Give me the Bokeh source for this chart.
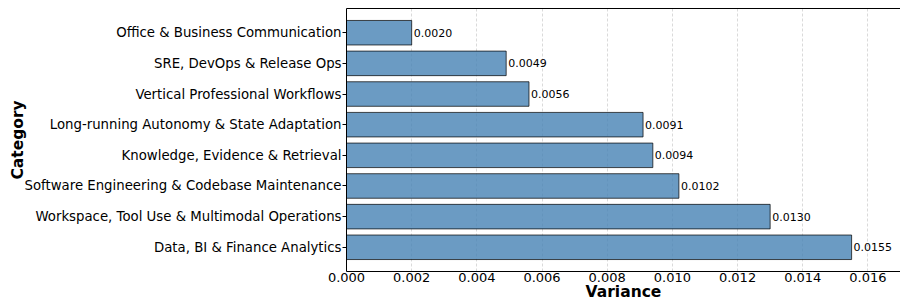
from bokeh.plotting import figure
from bokeh.models import ColumnDataSource, Range1d, FixedTicker, LinearAxis, PrintfTickFormatter
from bokeh.core.properties import value
from bokeh.embed import file_html
from bokeh.resources import INLINE

# bottom to top
categories = [
    "Data, BI & Finance Analytics",
    "Workspace, Tool Use & Multimodal Operations",
    "Software Engineering & Codebase Maintenance",
    "Knowledge, Evidence & Retrieval",
    "Long-running Autonomy & State Adaptation",
    "Vertical Professional Workflows",
    "SRE, DevOps & Release Ops",
    "Office & Business Communication",
]
variances = [0.0155, 0.0130, 0.0102, 0.0094, 0.0091, 0.0056, 0.0049, 0.0020]
x_ticks = [0.000, 0.002, 0.004, 0.006, 0.008, 0.010, 0.012, 0.014, 0.016]
x_label = "Variance"
y_label = "Category"

FONT = "DejaVu Sans"
ys = list(range(len(categories)))
src = ColumnDataSource(dict(
    y=ys, v=variances, lab=["%.4f" % v for v in variances]))

XMAX = 0.017
p = figure(width=900, height=303, output_backend="svg", toolbar_location=None,
           x_range=Range1d(0, XMAX), y_range=Range1d(-0.79, len(categories) - 1 + 0.79),
           min_border_left=346, min_border_right=0, min_border_top=8, min_border_bottom=32)
p.outline_line_color = None
p.background_fill_color = "white"
p.border_fill_color = "white"

p.hbar(y="y", left=0, right="v", height=0.8, source=src,
       fill_color="#4682b4", fill_alpha=0.8, line_color="black", line_alpha=0.7, line_width=1)
p.text(x="v", y="y", text="lab", source=src, x_offset=2, text_align="left",
       text_baseline="middle", text_font_size="11px", text_font=value(FONT), text_color="black")

# x axis
xa = p.xaxis[0]
xa.ticker = FixedTicker(ticks=x_ticks)
xa.formatter = PrintfTickFormatter(format="%.3f")
xa.major_tick_out = 0
xa.major_tick_in = 0
xa.minor_tick_out = 0
xa.minor_tick_in = 0
xa.major_label_standoff = 1
xa.major_label_text_font = FONT
xa.major_label_text_font_size = "13px"
xa.major_label_text_color = "black"
xa.axis_line_color = "black"
xa.axis_label = x_label
xa.axis_label_text_font = FONT
xa.axis_label_text_font_style = "bold"
xa.axis_label_text_font_size = "15.5px"
xa.axis_label_text_color = "black"
xa.axis_label_standoff = -2

# y axis
ya = p.yaxis[0]
ya.ticker = FixedTicker(ticks=ys)
ya.major_label_overrides = {i: c for i, c in enumerate(categories)}
ya.major_tick_out = 4
ya.major_tick_in = 0
ya.minor_tick_out = 0
ya.minor_tick_in = 0
ya.major_tick_line_color = "black"
ya.major_label_standoff = 1
ya.major_label_text_font = FONT
ya.major_label_text_font_size = "13.3px"
ya.major_label_text_color = "black"
ya.axis_line_color = "black"
ya.axis_label = y_label
ya.axis_label_text_font = FONT
ya.axis_label_text_font_style = "bold"
ya.axis_label_text_font_size = "15.5px"
ya.axis_label_text_color = "black"
ya.axis_label_standoff = -6

# top spine
top = LinearAxis(ticker=FixedTicker(ticks=[]), major_tick_out=0, major_tick_in=0,
                 minor_tick_out=0, minor_tick_in=0, major_label_standoff=0,
                 major_label_text_font_size="0px", axis_line_color="black")
p.add_layout(top, "above")

p.xgrid.grid_line_color = "#b0b0b0"
p.xgrid.grid_line_alpha = 0.6
p.xgrid.grid_line_dash = "3 2"
p.xgrid.grid_line_width = 0.8
p.ygrid.grid_line_color = None

open("out.html", "w").write(file_html(p, INLINE))
